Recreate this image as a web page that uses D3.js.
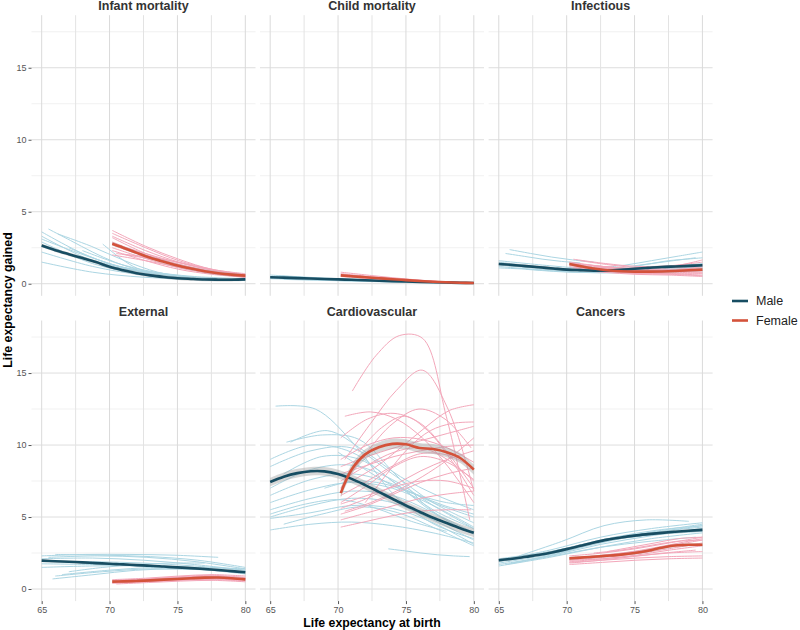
<!DOCTYPE html>
<html><head><meta charset="utf-8">
<script src="https://cdn.jsdelivr.net/npm/d3@7"></script>
<style>body{margin:0;background:#fff;} svg{font-family:"Liberation Sans",Arial,Helvetica,sans-serif;}</style>
</head><body><svg id="c" width="800" height="630"></svg>
<script>
// ---------------- data ----------------
const panelNames = ["Infant mortality", "Child mortality", "Infectious", "External", "Cardiovascular", "Cancers"];
const sexes = ["Male", "Female"];
const xTicks = [65, 70, 75, 80];
const yTicks = [0, 5, 10, 15];
const maleYears = [65, 66, 67, 68, 69, 70, 71, 72, 73, 74, 75, 76, 77, 78, 79, 80];
const femaleYears = [70.2, 71, 72, 73, 74, 75, 76, 77, 78, 79, 80];

// smoothed (loess) lines
const smoothMaleInfant = [2.65, 2.33, 2.05, 1.78, 1.5, 1.17, 0.93, 0.73, 0.58, 0.47, 0.38, 0.33, 0.29, 0.28, 0.28, 0.3];
const smoothFemaleInfant = [2.77, 2.5, 2.14, 1.8, 1.52, 1.26, 1.05, 0.87, 0.73, 0.63, 0.56];
const smoothMaleChild = [0.45, 0.42, 0.39, 0.36, 0.33, 0.3, 0.27, 0.24, 0.21, 0.18, 0.15, 0.12, 0.1, 0.08, 0.06, 0.05];
const smoothFemaleChild = [0.58, 0.52, 0.45, 0.38, 0.31, 0.25, 0.19, 0.14, 0.1, 0.07, 0.05];
const smoothMaleInfectious = [1.37, 1.3, 1.22, 1.14, 1.06, 0.98, 0.94, 0.91, 0.92, 0.97, 1.04, 1.1, 1.16, 1.2, 1.24, 1.28];
const smoothFemaleInfectious = [1.37, 1.22, 1.05, 0.93, 0.87, 0.84, 0.84, 0.85, 0.88, 0.93, 0.98];
const smoothMaleExternal = [1.97, 1.93, 1.89, 1.85, 1.8, 1.75, 1.71, 1.66, 1.62, 1.56, 1.5, 1.45, 1.39, 1.32, 1.24, 1.16];
const smoothFemaleExternal = [0.51, 0.53, 0.56, 0.6, 0.65, 0.7, 0.75, 0.79, 0.8, 0.75, 0.67];
const smoothMaleCardio = [7.43, 7.8, 8.05, 8.18, 8.17, 7.98, 7.65, 7.22, 6.75, 6.27, 5.8, 5.37, 4.95, 4.58, 4.22, 3.9];
const smoothFemaleCardio = [6.66, 8.3, 9.35, 9.85, 10.08, 10.05, 9.8, 9.72, 9.5, 9.1, 8.29];
const smoothMaleCancers = [2.0, 2.1, 2.24, 2.38, 2.56, 2.77, 3.0, 3.23, 3.43, 3.58, 3.71, 3.81, 3.9, 3.98, 4.05, 4.11];
const smoothFemaleCancers = [2.13, 2.18, 2.24, 2.31, 2.39, 2.5, 2.66, 2.87, 3.02, 3.07, 3.07];

// standard error half-widths of the smoothing bands, per panel
const seMale = [0.12, 0.05, 0.1, 0.08, 0.3, 0.1];
const seFemale = [0.12, 0.05, 0.1, 0.08, 0.35, 0.1];

// individual country curves: [start, end, values evenly spaced from start to end]
const thinMaleInfant = [
  [65, 80, [3.3, 1.6, 0.8, 0.45, 0.3]], [65, 80, [2.9, 1.4, 0.65, 0.35, 0.25]],
  [65, 80, [2.2, 1.2, 0.6, 0.35, 0.3]], [65, 80, [1.5, 0.8, 0.45, 0.3, 0.25]],
  [65.5, 72, [3.8, 3.0, 2.2, 1.5, 1.0]], [66.2, 76, [3.45, 2.6, 1.6, 0.8, 0.4]],
  [65, 78, [3.6, 2.0, 1.0, 0.5, 0.3]], [69.5, 74, [2.75, 1.9, 1.2, 0.8, 0.6]],
  [65, 80, [2.6, 1.6, 0.9, 0.5, 0.35]], [67, 80, [2.5, 1.3, 0.7, 0.4, 0.3]],
  [65, 75, [3.1, 2.2, 1.4, 0.8, 0.5]], [68, 80, [2.3, 1.3, 0.7, 0.4, 0.3]]
];
const thinFemaleInfant = [
  [70.2, 80, [3.7, 2.6, 1.7, 1.0, 0.7]], [70.2, 80, [3.5, 2.5, 1.6, 1.0, 0.65]],
  [70.2, 80, [3.3, 2.3, 1.5, 0.95, 0.6]], [70.2, 80, [3.2, 2.1, 1.35, 0.85, 0.55]],
  [70.2, 80, [2.9, 2.0, 1.3, 0.8, 0.5]], [70.2, 80, [2.7, 1.9, 1.25, 0.8, 0.55]],
  [70.2, 80, [2.5, 1.75, 1.1, 0.7, 0.45]], [70.5, 80, [2.1, 1.75, 1.3, 0.85, 0.5]],
  [70.2, 80, [2.0, 1.6, 1.15, 0.75, 0.45]], [70.2, 80, [2.3, 1.6, 1.0, 0.65, 0.45]],
  [71, 80, [2.05, 1.8, 1.4, 0.9, 0.55]], [70.2, 80, [2.8, 2.1, 1.45, 0.95, 0.6]]
];
const thinMaleChild = [
  [65, 80, [0.6, 0.4, 0.25, 0.12, 0.05]], [65, 80, [0.5, 0.35, 0.22, 0.1, 0.04]],
  [65, 80, [0.4, 0.28, 0.18, 0.1, 0.05]], [65, 80, [0.35, 0.25, 0.15, 0.08, 0.04]],
  [65.5, 78, [0.55, 0.38, 0.24, 0.13, 0.07]], [66, 80, [0.3, 0.22, 0.15, 0.08, 0.05]],
  [65, 80, [0.45, 0.32, 0.2, 0.11, 0.05]]
];
const thinFemaleChild = [
  [70.2, 80, [0.8, 0.55, 0.32, 0.15, 0.06]], [70.2, 80, [0.65, 0.45, 0.28, 0.14, 0.05]],
  [70.2, 80, [0.55, 0.4, 0.25, 0.12, 0.05]], [70.2, 80, [0.5, 0.35, 0.2, 0.1, 0.04]],
  [70.5, 80, [0.6, 0.42, 0.26, 0.13, 0.05]], [71, 80, [0.45, 0.32, 0.2, 0.1, 0.04]],
  [70.2, 80, [0.7, 0.48, 0.3, 0.14, 0.05]]
];
const thinMaleInfectious = [
  [65.8, 72, [2.37, 2.1, 1.85, 1.65, 1.5]], [65.5, 71, [2.1, 1.9, 1.7, 1.55, 1.45]],
  [65, 80, [1.5, 1.1, 0.9, 1.0, 1.2]], [65, 80, [1.3, 1.0, 0.85, 0.9, 1.05]],
  [65, 80, [1.2, 0.9, 0.75, 0.8, 0.95]], [65, 80, [1.6, 1.25, 1.0, 1.1, 1.4]],
  [72.5, 80, [1.1, 1.3, 1.6, 1.9, 2.2]], [73, 79.5, [1.0, 1.2, 1.4, 1.6, 1.8]],
  [65, 78, [1.4, 1.15, 0.95, 0.9, 1.0]], [67, 80, [1.0, 0.8, 0.8, 0.95, 1.15]],
  [65, 80, [1.1, 0.95, 0.85, 0.85, 0.9]], [75, 80, [1.2, 1.4, 1.6, 1.7, 1.8]]
];
const thinFemaleInfectious = [
  [70.5, 80, [1.7, 1.4, 1.2, 1.25, 1.5]], [71, 80, [1.6, 1.3, 1.1, 1.2, 1.65]],
  [70.2, 80, [1.4, 1.1, 0.9, 0.85, 0.9]], [70.2, 80, [1.2, 0.9, 0.75, 0.7, 0.7]],
  [70.2, 80, [1.3, 1.0, 0.8, 0.7, 0.6]], [70.2, 80, [1.5, 1.2, 1.0, 0.9, 0.8]],
  [70.5, 80, [1.1, 0.85, 0.7, 0.65, 0.55]], [71, 80, [1.35, 1.15, 1.0, 1.0, 1.1]],
  [70.2, 80, [1.0, 0.8, 0.65, 0.6, 0.5]], [72, 80, [1.2, 1.0, 0.9, 0.95, 1.2]],
  [70.2, 80, [1.45, 1.2, 1.05, 1.1, 1.3]], [70.5, 80, [1.25, 1.0, 0.85, 0.8, 0.75]]
];
const thinMaleExternal = [
  [65, 78, [2.3, 2.4, 2.4, 2.35, 2.2]], [65.5, 80, [2.2, 2.3, 2.2, 1.9, 1.4]],
  [65, 80, [2.1, 2.15, 2.0, 1.7, 1.3]], [65.8, 78, [0.7, 1.0, 1.3, 1.4, 1.3]],
  [66, 80, [0.9, 1.2, 1.4, 1.35, 1.2]], [65, 80, [1.9, 1.9, 1.8, 1.6, 1.3]],
  [65, 80, [1.5, 1.6, 1.6, 1.4, 1.1]], [66.5, 80, [1.0, 1.3, 1.5, 1.5, 1.4]],
  [65, 80, [1.75, 1.7, 1.6, 1.4, 1.05]], [66, 80, [2.4, 2.35, 2.25, 2.0, 1.5]],
  [67, 77, [1.2, 1.5, 1.7, 1.8, 1.8]]
];
const thinFemaleExternal = [
  [70.2, 80, [0.55, 0.65, 0.8, 0.85, 0.7]], [70.2, 80, [0.45, 0.55, 0.65, 0.7, 0.6]],
  [70.2, 80, [0.4, 0.5, 0.6, 0.65, 0.55]], [70.2, 80, [0.6, 0.7, 0.85, 0.95, 0.8]],
  [70.5, 80, [0.35, 0.45, 0.55, 0.6, 0.5]], [70.2, 80, [0.65, 0.75, 0.9, 1.0, 0.9]],
  [71, 80, [0.5, 0.6, 0.7, 0.75, 0.65]], [70.2, 80, [0.5, 0.62, 0.75, 0.8, 0.72]],
  [70.2, 80, [0.42, 0.52, 0.62, 0.72, 0.62]], [70.5, 80, [0.58, 0.68, 0.8, 0.9, 0.78]]
];
const thinMaleCardio = [
  [65.4, 80, [12.7, 12.5, 10.0, 6.5, 4.5, 3.5]], [66.2, 79.5, [10.2, 10.7, 10.4, 8.0, 5.5, 4.0]],
  [65, 80, [9.0, 10.0, 9.5, 7.5, 5.5, 4.2]], [65, 80, [8.5, 9.6, 9.8, 8.0, 6.0, 4.6]],
  [66, 80, [8.0, 9.2, 9.0, 7.2, 5.2, 3.8]], [65, 80, [7.0, 8.3, 8.6, 7.6, 5.8, 4.2]],
  [65, 80, [6.5, 7.6, 8.0, 7.3, 6.0, 5.0]], [65, 80, [6.0, 6.9, 7.4, 7.0, 5.8, 4.3]],
  [65, 80, [5.5, 6.3, 6.8, 6.5, 5.3, 3.9]], [65, 80, [5.0, 5.8, 6.3, 6.0, 4.8, 3.4]],
  [65, 80, [4.9, 5.3, 5.8, 5.6, 4.6, 3.1]], [66, 80, [4.5, 5.2, 5.7, 5.3, 4.2, 3.0]],
  [65, 80, [4.1, 4.5, 4.65, 4.4, 3.9, 3.2]], [73.7, 79.7, [2.79, 2.65, 2.5, 2.38, 2.3, 2.25]],
  [66.5, 80, [10.2, 11.0, 9.6, 7.8, 6.5, 5.5]], [70, 80, [9.5, 8.3, 7.2, 6.5, 6.0, 5.8]],
  [69, 80, [7.0, 7.5, 7.3, 6.6, 5.8, 5.2]], [65, 78, [5.2, 5.9, 6.2, 5.6, 4.7, 4.0]]
];
const thinFemaleCardio = [
  [71.05, 79.7, [13.75, 16.2, 17.6, 17.4, 12.0, 4.8]], [70.5, 80, [9.0, 11.5, 13.8, 15.2, 12.5, 6.8]],
  [71, 80, [7.5, 8.5, 9.8, 11.2, 12.4, 12.8]], [70.2, 79.8, [7.0, 9.5, 11.5, 12.5, 11.8, 9.8]],
  [70.2, 80, [10.5, 11.8, 12.2, 11.5, 9.5, 7.0]], [70.5, 80, [12.0, 12.3, 11.8, 10.5, 8.5, 6.0]],
  [70.2, 80, [9.0, 10.0, 10.5, 10.4, 9.8, 8.8]], [70.2, 80, [8.5, 9.2, 9.8, 10.3, 10.8, 11.3]],
  [70.2, 80, [8.0, 8.6, 9.2, 9.6, 9.9, 10.0]], [70.2, 80, [6.5, 7.5, 8.6, 9.4, 9.3, 8.4]],
  [70.2, 80, [6.0, 7.2, 8.5, 9.2, 8.8, 7.6]], [70.2, 80, [5.6, 6.3, 7.2, 8.2, 9.0, 9.6]],
  [70.2, 80, [5.2, 5.8, 6.6, 7.4, 8.0, 8.4]], [70.2, 80, [4.8, 5.3, 5.8, 6.3, 6.6, 6.8]],
  [70.2, 80, [5.9, 6.5, 7.1, 7.5, 7.5, 7.0]], [70.5, 80, [5.4, 6.0, 6.8, 7.8, 9.0, 10.5]],
  [70.2, 79.8, [4.3, 4.7, 5.1, 5.4, 5.5, 5.5]], [71.5, 80, [9.5, 11.2, 12.0, 11.0, 9.0, 6.5]],
  [72, 80, [6.0, 8.0, 9.8, 11.0, 11.5, 11.6]], [70.2, 80, [7.5, 8.6, 9.5, 9.8, 9.0, 7.5]]
];
const thinMaleCancers = [
  [66.5, 79, [2.3, 3.3, 4.4, 4.8, 4.7]], [65, 80, [1.7, 2.3, 3.1, 3.7, 4.2]],
  [65, 80, [1.9, 2.5, 3.3, 3.9, 4.4]], [65, 80, [2.1, 2.6, 3.3, 3.75, 4.0]],
  [65, 80, [1.6, 2.2, 2.9, 3.5, 3.9]], [66, 80, [1.8, 2.5, 3.4, 4.0, 4.5]],
  [65, 80, [2.0, 2.7, 3.6, 4.2, 4.6]], [65.5, 79.5, [1.7, 2.3, 2.9, 3.3, 3.6]],
  [67, 80, [2.2, 2.9, 3.6, 4.1, 4.4]], [65, 80, [1.8, 2.4, 3.2, 3.9, 4.3]]
];
const thinFemaleCancers = [
  [70.2, 80, [1.7, 1.85, 2.0, 2.1, 2.15]], [70.2, 80, [1.85, 2.0, 2.15, 2.25, 2.3]],
  [70.2, 80, [2.0, 2.2, 2.45, 2.8, 3.2]], [70.2, 80, [2.1, 2.35, 2.6, 3.0, 3.4]],
  [70.2, 80, [2.3, 2.5, 2.8, 3.2, 3.6]], [70.2, 80, [1.9, 2.1, 2.35, 2.7, 3.0]],
  [71, 80, [2.2, 2.4, 2.7, 3.1, 3.5]], [70.2, 80, [2.0, 2.1, 2.3, 2.5, 2.6]],
  [72, 80, [2.5, 2.7, 3.0, 3.3, 3.4]], [70.2, 79.5, [1.8, 2.0, 2.25, 2.5, 2.7]],
  [73, 80, [2.6, 2.9, 3.2, 3.5, 3.6]]
];

// ---------------- assemble ----------------
const smoothMale = [smoothMaleInfant, smoothMaleChild, smoothMaleInfectious, smoothMaleExternal, smoothMaleCardio, smoothMaleCancers];
const smoothFemale = [smoothFemaleInfant, smoothFemaleChild, smoothFemaleInfectious, smoothFemaleExternal, smoothFemaleCardio, smoothFemaleCancers];
const thinMale = [thinMaleInfant, thinMaleChild, thinMaleInfectious, thinMaleExternal, thinMaleCardio, thinMaleCancers];
const thinFemale = [thinFemaleInfant, thinFemaleChild, thinFemaleInfectious, thinFemaleExternal, thinFemaleCardio, thinFemaleCancers];

// ---------------- layout ----------------
const colLeft = [31.5, 260, 488.6];
const rowTop = [15.2, 320.5];
const panelW = 224, panelH = 280.6;
const colors = {
  maleThin: "#acd6e3", femaleThin: "#f3a7ba",
  male: "#174d62", female: "#d4523a", ribbon: "#9a9a9a"
};

const x = d3.scaleLinear().domain([64.25, 80.75]).range([0, panelW]);
const y = d3.scaleLinear().domain([-0.84, 18.65]).range([panelH, 0]);

const svg = d3.select("#c");
const lineGen = d3.line().x(d => x(d[0])).y(d => y(d[1])).curve(d3.curveCatmullRom.alpha(0.5));
const areaGen = d3.area().x(d => x(d[0])).y0(d => y(d[1] - d[2])).y1(d => y(d[1] + d[2])).curve(d3.curveCatmullRom.alpha(0.5));

function curvePoints(c) {
  const [x0, x1, vals] = c;
  return vals.map((v, i) => [x0 + (x1 - x0) * i / (vals.length - 1), v]);
}

panelNames.forEach((name, p) => {
  const col = p % 3, row = Math.floor(p / 3);
  const g = svg.append("g").attr("transform", `translate(${colLeft[col]},${rowTop[row]})`);

  // grid
  const minorY = [2.5, 7.5, 12.5, 17.5];
  g.selectAll(".gmy").data(minorY).join("line")
    .attr("x1", 0).attr("x2", panelW).attr("y1", d => y(d)).attr("y2", d => y(d))
    .attr("stroke", "#ededed").attr("stroke-width", 0.8);
  g.selectAll(".gy").data(yTicks).join("line")
    .attr("x1", 0).attr("x2", panelW).attr("y1", d => y(d)).attr("y2", d => y(d))
    .attr("stroke", "#dedede").attr("stroke-width", 1);
  const vx = [65, 67.5, 70, 72.5, 75, 77.5, 80];
  g.selectAll(".gx").data(vx).join("line")
    .attr("y1", 0).attr("y2", panelH).attr("x1", d => x(d)).attr("x2", d => x(d))
    .attr("stroke", d => xTicks.includes(d) ? "#dadada" : "#e3e3e3").attr("stroke-width", 1);

  // strip title
  g.append("text").attr("x", panelW / 2).attr("y", -5).attr("text-anchor", "middle")
    .attr("font-size", 12.5).attr("font-weight", "bold").attr("fill", "#333").text(name);

  // thin lines
  thinMale[p].forEach(c => g.append("path").attr("d", lineGen(curvePoints(c)))
    .attr("fill", "none").attr("stroke", colors.maleThin).attr("stroke-width", 1));
  thinFemale[p].forEach(c => g.append("path").attr("d", lineGen(curvePoints(c)))
    .attr("fill", "none").attr("stroke", colors.femaleThin).attr("stroke-width", 1));

  // ribbons + smooth lines
  const mPts = maleYears.map((yr, i) => [yr, smoothMale[p][i], seMale[p]]);
  const fPts = femaleYears.map((yr, i) => [yr, smoothFemale[p][i], seFemale[p]]);
  g.append("path").attr("d", areaGen(mPts)).attr("fill", colors.ribbon).attr("opacity", 0.4);
  g.append("path").attr("d", areaGen(fPts)).attr("fill", colors.ribbon).attr("opacity", 0.4);
  g.append("path").attr("d", lineGen(mPts)).attr("fill", "none").attr("stroke", colors.male).attr("stroke-width", 2.6);
  g.append("path").attr("d", lineGen(fPts)).attr("fill", "none").attr("stroke", colors.female).attr("stroke-width", 2.6);

  // axes
  if (col === 0) {
    const ay = g.append("g").call(d3.axisLeft(y).tickValues(yTicks).tickSize(3).tickPadding(2));
    ay.select(".domain").remove();
    ay.selectAll("line").attr("stroke", "#555");
    ay.selectAll("text").attr("font-size", 9).attr("fill", "#555").attr("font-family", null);
  }
  if (row === 1) {
    const ax = g.append("g").attr("transform", `translate(0,${panelH})`)
      .call(d3.axisBottom(x).tickValues(xTicks).tickSize(3).tickPadding(3));
    ax.select(".domain").remove();
    ax.selectAll("line").attr("stroke", "#555");
    ax.selectAll("text").attr("font-size", 9).attr("fill", "#555").attr("font-family", null);
  }
});

// axis titles
svg.append("text").attr("x", colLeft[1] + panelW / 2).attr("y", 627).attr("text-anchor", "middle")
  .attr("font-size", 12.3).attr("font-weight", "bold").attr("fill", "#000").text("Life expectancy at birth");
svg.append("text").attr("transform", "translate(11.5,300) rotate(-90)").attr("text-anchor", "middle")
  .attr("font-size", 12.3).attr("font-weight", "bold").attr("fill", "#000").text("Life expectancy gained");

// legend
const leg = svg.append("g").attr("transform", "translate(732,301)");
sexes.forEach((s, i) => {
  leg.append("line").attr("x1", 0).attr("x2", 16).attr("y1", i * 19.5).attr("y2", i * 19.5)
    .attr("stroke", i === 0 ? colors.male : colors.female).attr("stroke-width", 2.6);
  leg.append("text").attr("x", 24).attr("y", i * 19.5).attr("dy", "0.35em")
    .attr("font-size", 12.5).attr("fill", "#222").text(s);
});
</script></body></html>
